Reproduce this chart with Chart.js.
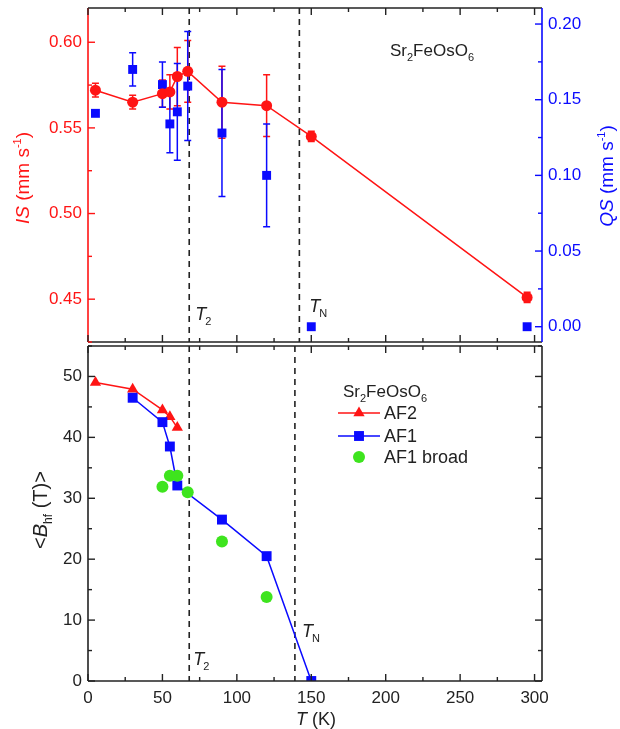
<!DOCTYPE html>
<html>
<head>
<meta charset="utf-8">
<script src="https://cdn.jsdelivr.net/npm/chart.js@4.4.1/dist/chart.umd.min.js"></script>
<style>
  html, body { margin: 0; padding: 0; background: #fff; }
  #wrap { position: relative; width: 620px; height: 729px; }
  canvas { position: absolute; left: 0; }
  #topChart { top: 0; }
  #bottomChart { top: 344px; }
</style>
</head>
<body>
<div id="wrap">
  <canvas id="topChart" width="620" height="344"></canvas>
  <canvas id="bottomChart" width="620" height="385"></canvas>
</div>
<script>
const FAMILY = '"Liberation Sans", Arial, Helvetica, sans-serif';
const RED = '#ff1414';
const BLUE = '#0a0aff';
const GREEN = '#3ee41e';
const INK = '#222';

// upper panel: isomer shift and quadrupole splitting vs temperature (K)
const tempTop = [5, 30, 50, 55, 60, 67, 90, 120, 150, 295];
const isValues = [0.572, 0.565, 0.570, 0.571, 0.580, 0.583, 0.565, 0.563, 0.545, 0.451];
const isErrors = [0.004, 0.004, 0.008, 0.010, 0.017, 0.018, 0.021, 0.018, 0.003, 0.003];
const qsValues = [0.141, 0.170, 0.160, 0.134, 0.142, 0.159, 0.128, 0.100, 0.000, 0.000];
const qsErrors = [0, 0.011, 0.015, 0.019, 0.032, 0.036, 0.042, 0.034, 0, 0];

// lower panel: mean hyperfine field (T)
const tempAF2 = [5, 30, 50, 55, 60];
const bAF2 = [49.0, 47.9, 44.5, 43.4, 41.6];
const tempAF1 = [30, 50, 55, 60, 90, 120, 150];
const bAF1 = [46.5, 42.5, 38.5, 32.1, 26.5, 20.5, 0];
const tempBroad = [50, 55, 60, 67, 90, 120];
const bBroad = [31.9, 33.7, 33.7, 31.0, 22.9, 13.8];

// tick labels
const xTickLabels = [0, 50, 100, 150, 200, 250, 300];
const isTickLabels = [0.45, 0.50, 0.55, 0.60];
const qsTickLabels = [0.00, 0.05, 0.10, 0.15, 0.20];
const bTickLabels = [0, 10, 20, 30, 40, 50];

// transition temperatures marked by dashed lines
const topMarkers = [{ t: 68, sub: '2' }, { t: 142, sub: 'N' }];
const bottomMarkers = [{ t: 68, sub: '2' }, { t: 139, sub: 'N' }];

const f = (size, style) => `${style || ''} ${size}px ${FAMILY}`.trim();
const pts = (xs, ys) => xs.map((x, i) => ({ x: x, y: ys[i] }));

function fixTicks(values) {
  return scale => { scale.ticks = values.map(v => ({ value: v })); };
}
function fitBox(w, h) {
  return scale => {
    if (w !== null) scale.width = w;
    if (h !== null) scale.height = h;
    scale.paddingLeft = scale.paddingRight = scale.paddingTop = scale.paddingBottom = 0;
  };
}

function rich(ctx, x, y, parts, opts) {
  const o = Object.assign({ angle: 0, align: 'left', color: INK }, opts);
  ctx.save();
  ctx.translate(x, y);
  ctx.rotate(o.angle);
  ctx.fillStyle = o.color;
  ctx.textBaseline = 'alphabetic';
  ctx.textAlign = 'left';
  let w = 0;
  parts.forEach(p => { ctx.font = p.font; w += ctx.measureText(p.text).width + (p.dx || 0); });
  let cx = o.align === 'center' ? -w / 2 : 0;
  parts.forEach(p => {
    ctx.font = p.font;
    cx += p.dx || 0;
    ctx.fillText(p.text, cx, p.dy || 0);
    cx += ctx.measureText(p.text).width;
  });
  ctx.restore();
}

const formula = [
  { text: 'Sr', font: f(17) }, { text: '2', font: f(11), dy: 5 },
  { text: 'FeOsO', font: f(17) }, { text: '6', font: f(11), dy: 5 }
];

function line(ctx, x1, y1, x2, y2, color, width) {
  ctx.save();
  ctx.strokeStyle = color;
  ctx.lineWidth = width || 1.6;
  ctx.beginPath(); ctx.moveTo(x1, y1); ctx.lineTo(x2, y2); ctx.stroke();
  ctx.restore();
}

// short ticks on the frame, pointing into the plot
function inwardTicks(ctx, scale, step, majorEvery, edge, a, color) {
  ctx.save();
  ctx.strokeStyle = color;
  ctx.lineWidth = 1.4;
  const i0 = Math.ceil(scale.min / step - 1e-6);
  const i1 = Math.floor(scale.max / step + 1e-6);
  for (let i = i0; i <= i1; i++) {
    const len = i % majorEvery === 0 ? 7 : 4;
    const p = scale.getPixelForValue(i * step);
    ctx.beginPath();
    if (edge === 'top') { ctx.moveTo(p, a.top); ctx.lineTo(p, a.top + len); }
    if (edge === 'bottom') { ctx.moveTo(p, a.bottom); ctx.lineTo(p, a.bottom - len); }
    if (edge === 'left') { ctx.moveTo(a.left, p); ctx.lineTo(a.left + len, p); }
    if (edge === 'right') { ctx.moveTo(a.right, p); ctx.lineTo(a.right - len, p); }
    ctx.stroke();
  }
  ctx.restore();
}

function dashedMarkers(ctx, xScale, a, markers) {
  ctx.save();
  ctx.strokeStyle = INK;
  ctx.lineWidth = 1.6;
  ctx.setLineDash([6, 5]);
  markers.forEach(m => {
    const px = xScale.getPixelForValue(m.t);
    ctx.beginPath(); ctx.moveTo(px, a.top); ctx.lineTo(px, a.bottom); ctx.stroke();
  });
  ctx.restore();
}

function markerLabel(ctx, x, y, sub) {
  rich(ctx, x, y, [{ text: 'T', font: f(18, 'italic') }, { text: sub, font: f(11), dy: 5, dx: -1 }]);
}

function errorBars(ctx, xs, ys, temps, vals, errs, color) {
  ctx.save();
  ctx.strokeStyle = color;
  ctx.lineWidth = 1.5;
  temps.forEach((t, i) => {
    if (!errs[i]) return;
    const px = xs.getPixelForValue(t);
    const hi = ys.getPixelForValue(vals[i] + errs[i]);
    const lo = ys.getPixelForValue(vals[i] - errs[i]);
    ctx.beginPath();
    ctx.moveTo(px, hi); ctx.lineTo(px, lo);
    ctx.moveTo(px - 3.5, hi); ctx.lineTo(px + 3.5, hi);
    ctx.moveTo(px - 3.5, lo); ctx.lineTo(px + 3.5, lo);
    ctx.stroke();
  });
  ctx.restore();
}

const topDecor = {
  id: 'topDecor',
  beforeDatasetsDraw(chart) {
    const { ctx, chartArea: a, scales } = chart;
    dashedMarkers(ctx, scales.x, a, topMarkers);
    errorBars(ctx, scales.x, scales.yIS, tempTop, isValues, isErrors, RED);
    errorBars(ctx, scales.x, scales.yQS, tempTop, qsValues, qsErrors, BLUE);
  },
  afterDraw(chart) {
    const { ctx, chartArea: a, scales } = chart;
    line(ctx, a.left, a.top, a.right, a.top, INK);
    line(ctx, a.left, a.bottom, a.right, a.bottom, INK);
    line(ctx, a.left, a.top, a.left, a.bottom, RED);
    line(ctx, a.right, a.top, a.right, a.bottom, BLUE);
    inwardTicks(ctx, scales.x, 25, 2, 'top', a, INK);
    inwardTicks(ctx, scales.x, 25, 2, 'bottom', a, INK);
    inwardTicks(ctx, scales.yIS, 0.025, 2, 'left', a, RED);
    inwardTicks(ctx, scales.yQS, 0.025, 2, 'right', a, BLUE);

    const x = scales.x;
    markerLabel(ctx, x.getPixelForValue(topMarkers[0].t) + 6, 320, topMarkers[0].sub);
    markerLabel(ctx, x.getPixelForValue(topMarkers[1].t) + 10, 312, topMarkers[1].sub);

    rich(ctx, 390, 56, formula);

    rich(ctx, 29, 178, [
      { text: 'IS', font: f(19, 'italic') }, { text: ' (mm s', font: f(19) },
      { text: '-1', font: f(11), dy: -8 }, { text: ')', font: f(19) }
    ], { angle: -Math.PI / 2, align: 'center', color: RED });
    rich(ctx, 613, 176, [
      { text: 'QS', font: f(19, 'italic') }, { text: ' (mm s', font: f(19) },
      { text: '-1', font: f(11), dy: -8 }, { text: ')', font: f(19) }
    ], { angle: -Math.PI / 2, align: 'center', color: BLUE });
  }
};

const bottomDecor = {
  id: 'bottomDecor',
  beforeDatasetsDraw(chart) {
    const { ctx, chartArea: a, scales } = chart;
    dashedMarkers(ctx, scales.x, a, bottomMarkers);
  },
  afterDraw(chart) {
    const { ctx, chartArea: a, scales } = chart;
    line(ctx, a.left, a.top, a.right, a.top, INK);
    line(ctx, a.left, a.bottom, a.right, a.bottom, INK);
    line(ctx, a.left, a.top, a.left, a.bottom, INK);
    line(ctx, a.right, a.top, a.right, a.bottom, INK);
    inwardTicks(ctx, scales.x, 25, 2, 'top', a, INK);
    inwardTicks(ctx, scales.x, 25, 2, 'bottom', a, INK);
    inwardTicks(ctx, scales.y, 5, 2, 'left', a, INK);
    inwardTicks(ctx, scales.y, 5, 2, 'right', a, INK);

    const x = scales.x;
    markerLabel(ctx, x.getPixelForValue(bottomMarkers[0].t) + 4, 321, bottomMarkers[0].sub);
    markerLabel(ctx, x.getPixelForValue(bottomMarkers[1].t) + 7, 293, bottomMarkers[1].sub);

    // legend
    rich(ctx, 343, 53, formula);
    const rows = [
      { label: 'AF2', color: RED, style: 'triangle', r: 6.5, line: true, y: 69 },
      { label: 'AF1', color: BLUE, style: 'rect', r: 7, line: true, y: 92 },
      { label: 'AF1 broad', color: GREEN, style: 'circle', r: 6, line: false, y: 113 }
    ];
    rows.forEach(row => {
      if (row.line) line(ctx, 338, row.y, 380, row.y, row.color, 1.5);
      ctx.save();
      ctx.fillStyle = row.color;
      ctx.strokeStyle = row.color;
      Chart.helpers.drawPoint(ctx, { pointStyle: row.style, radius: row.r, rotation: 0, borderWidth: 0 }, 359, row.y);
      ctx.restore();
      rich(ctx, 384, row.y + 6, [{ text: row.label, font: f(18) }]);
    });

    rich(ctx, 47, 166, [
      { text: '<', font: f(20) }, { text: 'B', font: f(20, 'italic') },
      { text: 'hf', font: f(12), dy: 5 }, { text: ' (T)>', font: f(20) }
    ], { angle: -Math.PI / 2, align: 'center' });
    rich(ctx, 316, 381, [
      { text: 'T', font: f(18, 'italic') }, { text: ' (K)', font: f(18) }
    ], { align: 'center' });
  }
};

const tickFont = { family: FAMILY, size: 17 };

new Chart(document.getElementById('topChart'), {
  type: 'scatter',
  data: {
    datasets: [
      {
        label: 'IS',
        data: pts(tempTop, isValues),
        yAxisID: 'yIS',
        showLine: true,
        borderColor: RED,
        backgroundColor: RED,
        borderWidth: 1.5,
        pointStyle: 'circle',
        pointRadius: 5.5,
        pointBorderWidth: 0
      },
      {
        label: 'QS',
        data: pts(tempTop, qsValues),
        yAxisID: 'yQS',
        showLine: false,
        borderColor: BLUE,
        backgroundColor: BLUE,
        pointStyle: 'rect',
        pointRadius: 6.3,
        pointBorderWidth: 0
      }
    ]
  },
  options: {
    responsive: false,
    animation: false,
    layout: { autoPadding: false, padding: { top: 8, left: 0, right: 0, bottom: 0 } },
    plugins: { legend: { display: false }, tooltip: { enabled: false } },
    scales: {
      x: {
        type: 'linear', min: 0, max: 305,
        grid: { display: false, drawTicks: false }, border: { display: false },
        ticks: { display: false },
        afterFit: fitBox(null, 2)
      },
      yIS: {
        type: 'linear', position: 'left', min: 0.425, max: 0.62,
        grid: { display: false, drawTicks: false }, border: { display: false },
        ticks: { color: RED, font: tickFont, padding: 6, callback: v => v.toFixed(2) },
        afterBuildTicks: fixTicks(isTickLabels),
        afterFit: fitBox(88, null)
      },
      yQS: {
        type: 'linear', position: 'right', min: -0.0101, max: 0.2106,
        grid: { display: false, drawTicks: false }, border: { display: false },
        ticks: { color: BLUE, font: tickFont, padding: 6, callback: v => v.toFixed(2) },
        afterBuildTicks: fixTicks(qsTickLabels),
        afterFit: fitBox(78, null)
      }
    }
  },
  plugins: [topDecor]
});

new Chart(document.getElementById('bottomChart'), {
  type: 'scatter',
  data: {
    datasets: [
      {
        label: 'AF1 broad',
        data: pts(tempBroad, bBroad),
        showLine: false,
        backgroundColor: GREEN,
        borderColor: GREEN,
        pointStyle: 'circle',
        pointRadius: 6,
        pointBorderWidth: 0
      },
      {
        label: 'AF1',
        data: pts(tempAF1, bAF1),
        showLine: true,
        borderColor: BLUE,
        backgroundColor: BLUE,
        borderWidth: 1.5,
        pointStyle: 'rect',
        pointRadius: 7,
        pointBorderWidth: 0
      },
      {
        label: 'AF2',
        data: pts(tempAF2, bAF2),
        showLine: true,
        borderColor: RED,
        backgroundColor: RED,
        borderWidth: 1.5,
        pointStyle: 'triangle',
        pointRadius: 6.5,
        pointBorderWidth: 0
      }
    ]
  },
  options: {
    responsive: false,
    animation: false,
    layout: { autoPadding: false, padding: { top: 2, left: 0, right: 78, bottom: 0 } },
    plugins: { legend: { display: false }, tooltip: { enabled: false } },
    scales: {
      x: {
        type: 'linear', min: 0, max: 305,
        grid: { display: false, drawTicks: false }, border: { display: false },
        ticks: { color: INK, font: tickFont, padding: 7, maxRotation: 0 },
        afterBuildTicks: fixTicks(xTickLabels),
        afterFit: fitBox(null, 48)
      },
      y: {
        type: 'linear', position: 'left', min: 0, max: 55,
        grid: { display: false, drawTicks: false }, border: { display: false },
        ticks: { color: INK, font: tickFont, padding: 6 },
        afterBuildTicks: fixTicks(bTickLabels),
        afterFit: fitBox(88, null)
      }
    }
  },
  plugins: [bottomDecor]
});
</script>
</body>
</html>
